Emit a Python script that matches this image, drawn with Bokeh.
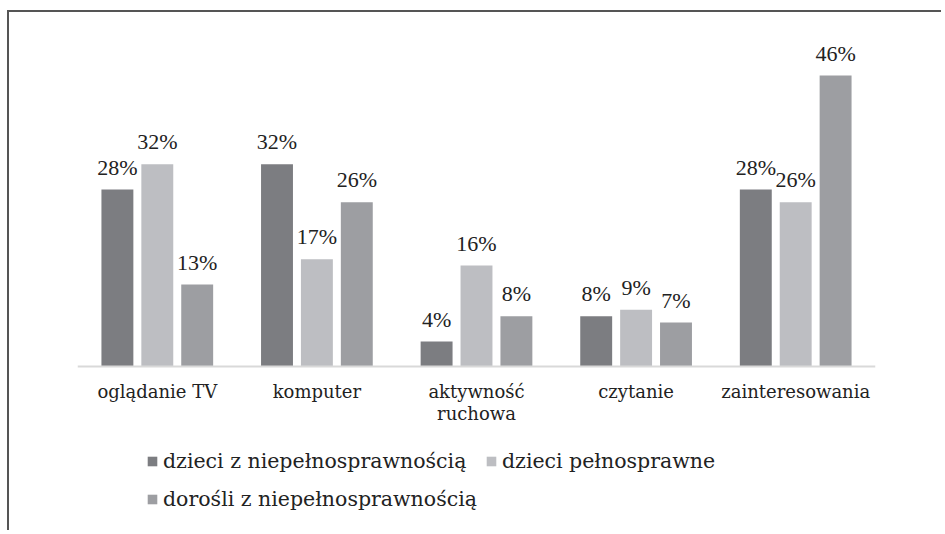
from bokeh.plotting import figure
from bokeh.models import ColumnDataSource, LabelSet, Legend, LegendItem, FactorRange, CategoricalAxis
from bokeh.transform import dodge
from bokeh.embed import file_html
from bokeh.resources import INLINE

categories = ["oglądanie TV", "komputer", "aktywność\nruchowa", "czytanie", "zainteresowania"]
series_names = ["dzieci z niepełnosprawnością", "dzieci pełnosprawne", "dorośli z niepełnosprawnością"]
dzieci_niepelno = [28, 32, 4, 8, 28]
dzieci_pelno = [32, 17, 16, 9, 26]
dorosli_niepelno = [13, 26, 8, 7, 46]
colors = ["#7c7d81", "#bdbec2", "#9d9ea2"]
offsets = [-0.25, 0.0, 0.25]

FONT = "DejaVu Serif"
TXT = "#222222"

p = figure(x_range=FactorRange(factors=categories), y_range=(-25.2, 52),
           width=934, height=520, output_backend="svg", toolbar_location=None,
           x_axis_location=None, y_axis_location=None,
           min_border_left=68, min_border_right=68, min_border_top=25, min_border_bottom=6)
p.styles = {"border-top": "2px solid #555555", "border-left": "2px solid #555555",
            "margin-top": "10px", "margin-left": "7px"}

p.outline_line_color = None
p.xgrid.grid_line_color = None
p.ygrid.grid_line_color = None

items = []
for name, vals, col, off in zip(series_names, [dzieci_niepelno, dzieci_pelno, dorosli_niepelno], colors, offsets):
    src = ColumnDataSource(dict(cat=categories, val=vals, lbl=[f"{v}%" for v in vals]))
    r = p.vbar(x=dodge("cat", off, range=p.x_range), top="val", bottom=0, width=0.2, source=src,
               fill_color=col, line_color=None)
    items.append(LegendItem(label=name, renderers=[r]))
    lab = LabelSet(x=dodge("cat", off, range=p.x_range), y="val", text="lbl", source=src,
                   text_align="center", text_baseline="alphabetic", y_offset=15,
                   text_font=FONT, text_font_size="22px", text_color=TXT)
    p.add_layout(lab)

ax = CategoricalAxis(fixed_location=0)
ax.axis_line_color = "#d9d9d9"
ax.axis_line_width = 2
ax.major_tick_line_color = None
ax.minor_tick_line_color = None
ax.major_label_standoff = 8
ax.major_label_text_font = FONT
ax.major_label_text_font_size = "18px"
ax.major_label_text_color = TXT
ax.major_label_text_line_height = 1.05
p.add_layout(ax, "below")

legend = Legend(items=items, orientation="horizontal", ncols=2, location=(69, 12),
                glyph_width=12, glyph_height=12, label_height=30, spacing=8,
                label_standoff=5, padding=0, margin=0, border_line_color=None,
                background_fill_alpha=0, label_text_font=FONT, label_text_font_size="20.5px",
                label_text_color=TXT)
p.add_layout(legend, "center")

open("out.html", "w").write(file_html(p, INLINE))
